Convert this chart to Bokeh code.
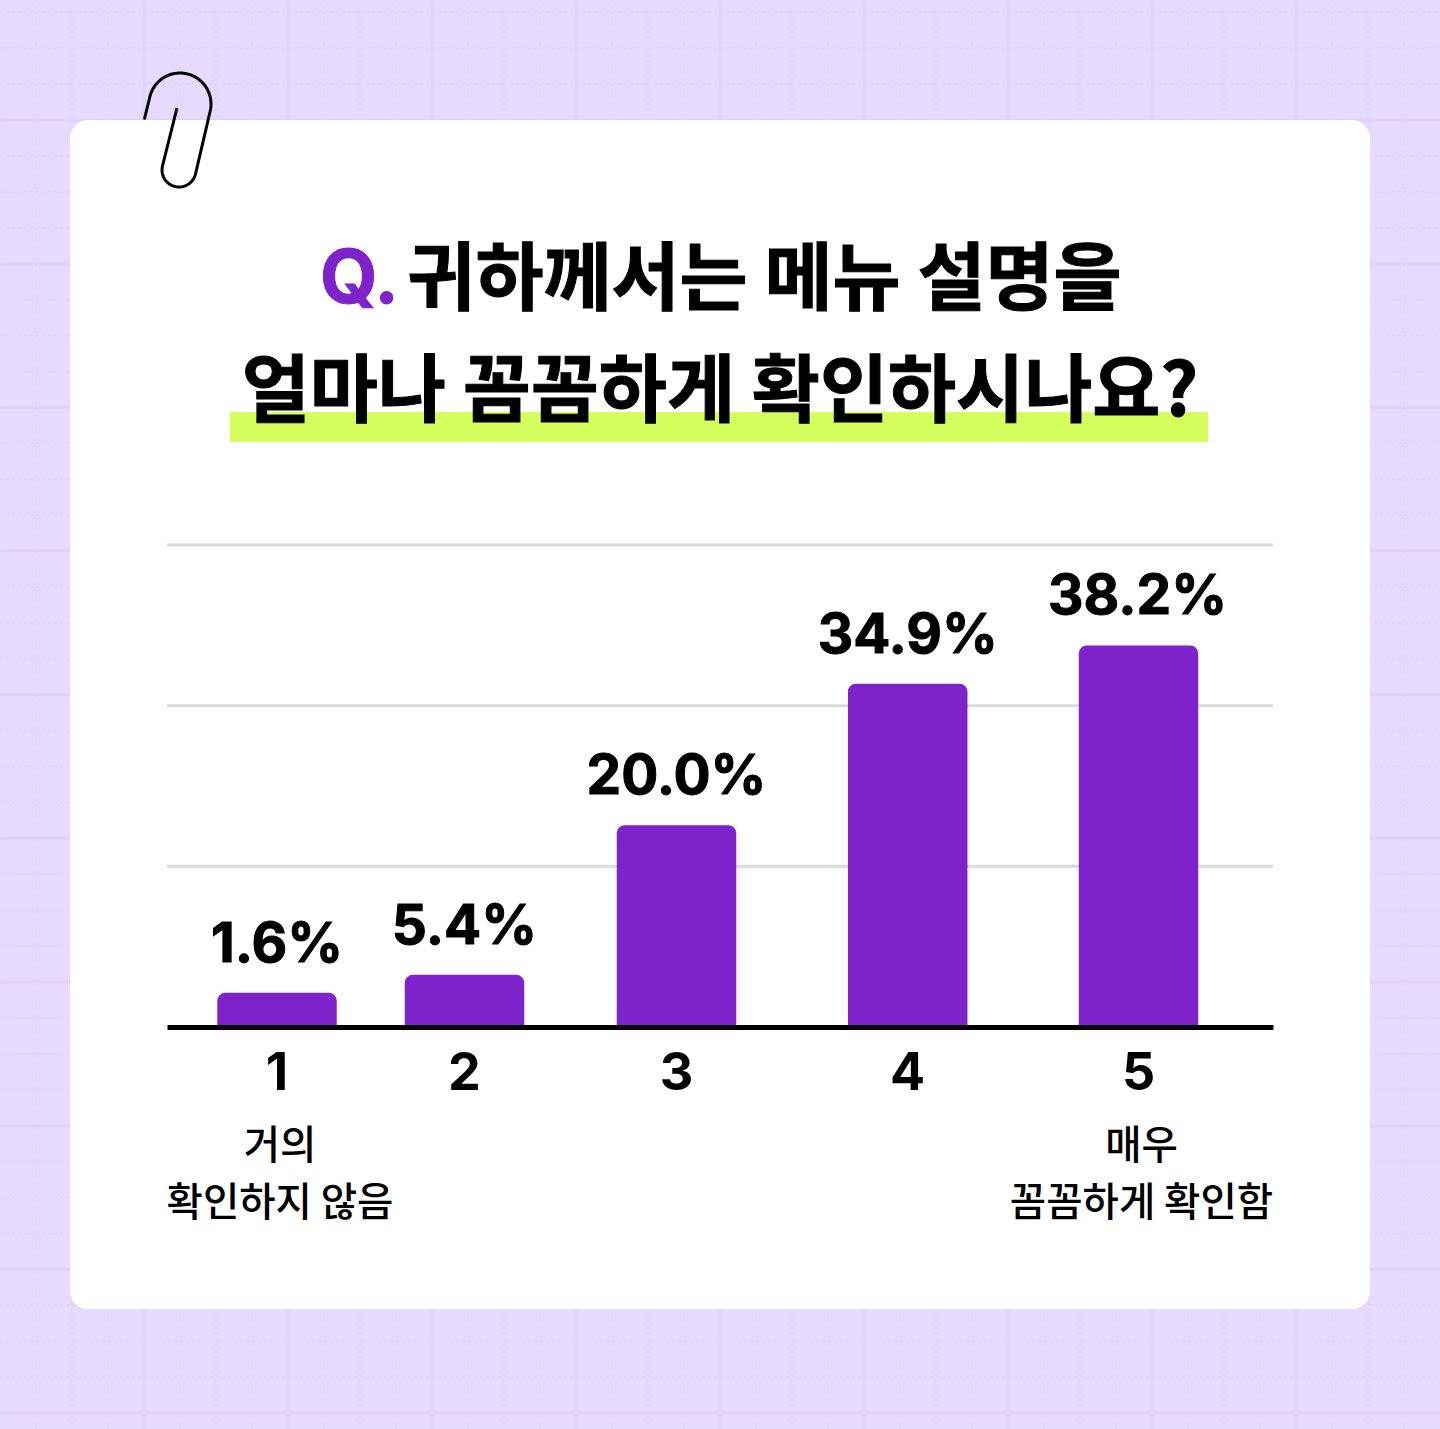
import numpy as np
from bokeh.plotting import figure
from bokeh.models import Range1d, FixedTicker
from bokeh.core.properties import value
from bokeh.embed import file_html
from bokeh.resources import INLINE

# ---- data ----
categories = ["1", "2", "3", "4", "5"]
value_labels = ["1.6%", "5.4%", "20.0%", "34.9%", "38.2%"]
drawn_bar_heights = [3.4, 5.2, 20.1, 34.2, 38.0]
grid_values = [16, 32, 48]
low_label = ["거의", "확인하지 않음"]
high_label = ["매우", "꼼꼼하게 확인함"]
title_q = "Q."
title_line1 = "귀하께서는 메뉴 설명을"
title_line2 = "얼마나 꼼꼼하게 확인하시나요?"

# ---- layout (reference pixels) ----
W, H = 1440, 1429
BASE = 1026.5
PX_PER_UNIT = 10.04
bar_x = [277, 464.5, 676.5, 907.7, 1138.5]
CJK = "Noto Sans CJK KR"
CJK_MED = "'Noto Sans CJK KR Medium', 'Noto Sans CJK KR'"
LAT = "Inter"
PURPLE = "#7E22CC"
BG = "#E6DBFF"

p = figure(width=W, height=H, output_backend="svg", toolbar_location=None,
           x_range=Range1d(0.5, W + 0.5),
           y_range=Range1d((BASE - H) / PX_PER_UNIT, BASE / PX_PER_UNIT),
           min_border=0, min_border_left=0, min_border_right=0, min_border_top=0, min_border_bottom=0,
           background_fill_color=BG, border_fill_color=BG, outline_line_color=None)
p.extra_y_ranges["px"] = Range1d(H + 0.5, 0.5)
p.yaxis.visible = False
p.xgrid.visible = False
p.ygrid.visible = False

# background squared paper
major_x = [144 * k for k in range(1, 10)]
major_y = [120 + 143.67 * k for k in range(0, 10)]
minor_x = [36 * k for k in range(0, 41) if k % 4]
minor_y = [120 + 35.92 * k for k in range(-3, 37) if k % 4]
p.segment(x0=minor_x, x1=minor_x, y0=[0] * len(minor_x), y1=[H] * len(minor_x), y_range_name="px",
          line_color="#E0D3FC", line_width=2, line_dash="3 3")
p.segment(x0=[0] * len(minor_y), x1=[W] * len(minor_y), y0=minor_y, y1=minor_y, y_range_name="px",
          line_color="#E0D3FC", line_width=2, line_dash="3 3")
p.segment(x0=major_x, x1=major_x, y0=[0] * len(major_x), y1=[H] * len(major_x), y_range_name="px",
          line_color="#E0D0FA", line_width=3)
p.segment(x0=[0] * len(major_y), x1=[W] * len(major_y), y0=major_y, y1=major_y, y_range_name="px",
          line_color="#E0D0FA", line_width=3)

# white card
p.quad(left=[70], right=[1370], top=[120], bottom=[1309], y_range_name="px",
       fill_color="white", line_color=None, border_radius=18)

# paper clip
a_top = np.radians(np.linspace(194, 374, 60))
a_bot = np.radians(np.linspace(14, 194, 40))
clip_x = [144.3, *(180 + 31 * np.cos(a_top)), *(179 + 17 * np.cos(a_bot)), 177]
clip_y = [119.5, *(104 + 31 * np.sin(a_top)), *(170 + 17 * np.sin(a_bot)), 108]
p.line(clip_x, clip_y, y_range_name="px", line_color="black", line_width=3, line_join="round")

# title highlight
p.quad(left=[230], right=[1208], top=[412], bottom=[442], y_range_name="px",
       fill_color="#D4FF5C", line_color=None)

# title
p.text(x=[320], y=[276], text=[title_q], y_range_name="px", text_font=value(LAT), text_font_style="bold",
       text_font_size="74px", text_color=PURPLE, text_outline_color=PURPLE,
       text_align="left", text_baseline="alphabetic")
p.text(x=[764.5], y=[271], text=[title_line1], y_range_name="px", text_font=value(CJK), text_font_style="bold",
       text_font_size="74px", text_color="black", text_outline_color="black",
       text_align="center", text_baseline="alphabetic")
p.text(x=[720], y=[383], text=[title_line2], y_range_name="px", text_font=value(CJK), text_font_style="bold",
       text_font_size="74px", text_color="black", text_outline_color="black",
       text_align="center", text_baseline="alphabetic")

# chart grid
p.segment(x0=[167] * len(grid_values), x1=[1273] * len(grid_values), y0=grid_values, y1=grid_values,
          line_color="#DADADA", line_width=3)

# bars
p.vbar(x=bar_x, top=drawn_bar_heights, bottom=0, width=119.5, fill_color=PURPLE, line_color=None,
       border_radius=(8, 8, 0, 0))

# value labels
p.text(x=bar_x, y=drawn_bar_heights, text=value_labels, y_offset=-51, x_offset=[0, 0, 0, 0, -1],
       text_font=value(LAT), text_font_style="bold", text_font_size="55px", text_color="black",
       text_outline_color="black", text_align="center", text_baseline="alphabetic")

# x axis sitting on the zero line
ax = p.xaxis[0]
ax.fixed_location = 0
ax.bounds = (167, 1273)
ax.ticker = FixedTicker(ticks=bar_x)
ax.major_label_overrides = dict(zip(bar_x, categories))
ax.axis_line_color = "black"
ax.axis_line_width = 5
ax.major_tick_line_color = None
ax.minor_tick_line_color = None
ax.major_label_text_font = LAT
ax.major_label_text_font_style = "bold"
ax.major_label_text_font_size = "52px"
ax.major_label_text_color = "black"
ax.major_label_standoff = 19

# scale-end captions
for xc, lines in ((280, low_label), (1141.5, high_label)):
    p.text(x=[xc, xc], y=[1141, 1198], text=lines, y_range_name="px",
           text_font=value(CJK_MED), text_font_size="39.5px", text_color="black",
           text_align="center", text_baseline="alphabetic")

open("out.html", "w").write(file_html(p, INLINE).replace("<body>", f'<body style="background:{BG}">'))
